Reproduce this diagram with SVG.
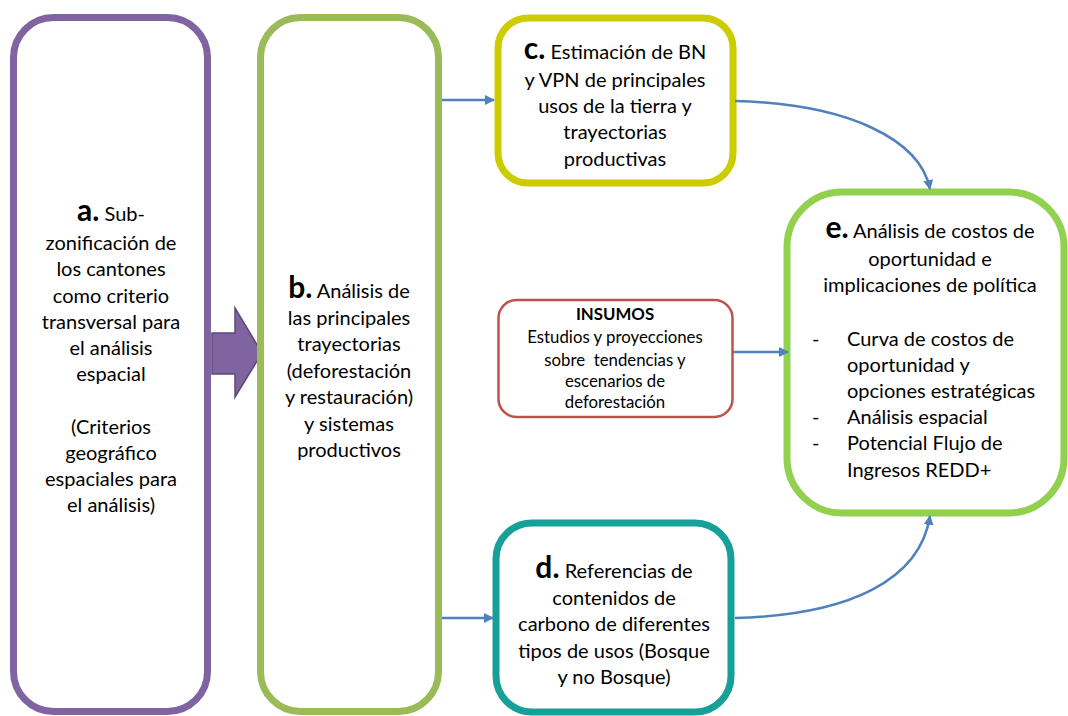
<svg xmlns="http://www.w3.org/2000/svg" width="1068" height="716" viewBox="0 0 1068 716">
<style>
.t{font-family:Lato,"Liberation Sans",sans-serif;font-size:20px;fill:#000;text-anchor:middle}
.s{font-family:Lato,"Liberation Sans",sans-serif;font-size:16.8px;fill:#000;text-anchor:middle}
.l{font-family:Lato,"Liberation Sans",sans-serif;font-size:20px;fill:#000}
.b{font-weight:bold;font-size:30px}
.box{fill:#fff;stroke-width:7}
.con{fill:none;stroke:#4F81BD;stroke-width:2.5}
</style>
<defs>
<marker id="ah" viewBox="0 0 10 10" refX="9" refY="5" markerWidth="4" markerHeight="4" orient="auto" markerUnits="strokeWidth">
<path d="M0,0 L10,5 L0,10 Z" fill="#4F81BD"/>
</marker>
</defs>
<rect width="1068" height="716" fill="#fff"/>
<g id="nodeA">
<rect class="box" x="13.5" y="17.5" width="194" height="694" rx="40" stroke="#8064A2"/>
<text class="t" x="111" y="221"><tspan class="b">a.</tspan> Sub-</text>
<text class="t" x="111" y="250">zonificación de</text>
<text class="t" x="111" y="276">los cantones</text>
<text class="t" x="111" y="303">como criterio</text>
<text class="t" x="111" y="329">transversal para</text>
<text class="t" x="111" y="355">el análisis</text>
<text class="t" x="111" y="381">espacial</text>
<text class="t" x="111" y="434">(Criterios</text>
<text class="t" x="111" y="460">geográfico</text>
<text class="t" x="111" y="486">espaciales para</text>
<text class="t" x="111" y="512">el análisis)</text>
</g>
<g id="blockArrow">
<path d="M212,333 H235 V308 L262,353 L235,397 V374 H212 Z" fill="#8064A2" stroke="#5C4776" stroke-width="1.5"/>
</g>
<g id="nodeB">
<rect class="box" x="260.5" y="17.5" width="178" height="694" rx="40" stroke="#9BBB59"/>
<text class="t" x="349" y="298"><tspan class="b">b.</tspan> Análisis de</text>
<text class="t" x="349" y="325">las principales</text>
<text class="t" x="349" y="351">trayectorias</text>
<text class="t" x="349" y="378">(deforestación</text>
<text class="t" x="349" y="404">y restauración)</text>
<text class="t" x="349" y="431">y sistemas</text>
<text class="t" x="349" y="457">productivos</text>
</g>
<g id="nodeC">
<rect class="box" x="498" y="18" width="235" height="165" rx="30" stroke="#CCCC00"/>
<text class="t" x="615" y="59"><tspan class="b">c.</tspan> Estimación de BN</text>
<text class="t" x="615" y="87">y VPN de principales</text>
<text class="t" x="615" y="113">usos de la tierra y</text>
<text class="t" x="615" y="139">trayectorias</text>
<text class="t" x="615" y="166">productivas</text>
</g>
<g id="nodeInsumos">
<rect x="498.5" y="300" width="234" height="117" rx="18" fill="#fff" stroke="#C0504D" stroke-width="2.5"/>
<text class="s" x="615" y="320" font-weight="bold">INSUMOS</text>
<text class="s" x="615" y="343">Estudios y proyecciones</text>
<text class="s" x="615" y="366">sobre&#160; tendencias y</text>
<text class="s" x="615" y="387">escenarios de</text>
<text class="s" x="615" y="408">deforestación</text>
</g>
<g id="nodeD">
<rect class="box" x="496" y="523" width="235" height="189" rx="36" stroke="#17A098"/>
<text class="t" x="614" y="578"><tspan class="b">d.</tspan> Referencias de</text>
<text class="t" x="614" y="605">contenidos de</text>
<text class="t" x="614" y="631">carbono de diferentes</text>
<text class="t" x="614" y="658">tipos de usos (Bosque</text>
<text class="t" x="614" y="684">y no Bosque)</text>
</g>
<g id="nodeE">
<rect class="box" x="787" y="192" width="277" height="321" rx="55" stroke="#92D050"/>
<text class="t" x="930" y="238"><tspan class="b">e.</tspan> Análisis de costos de</text>
<text class="t" x="930" y="266">oportunidad e</text>
<text class="t" x="930" y="292">implicaciones de política</text>
<text class="l" x="812" y="346">-</text>
<text class="l" x="847" y="346">Curva de costos de</text>
<text class="l" x="847" y="372">oportunidad y</text>
<text class="l" x="847" y="398">opciones estratégicas</text>
<text class="l" x="812" y="424">-</text>
<text class="l" x="847" y="424">Análisis espacial</text>
<text class="l" x="812" y="450">-</text>
<text class="l" x="847" y="450">Potencial Flujo de</text>
<text class="l" x="847" y="477">Ingresos REDD+</text>
</g>
<g id="connectors">
<path class="con" d="M442,100 H494" marker-end="url(#ah)"/>
<path class="con" d="M442,618 H493" marker-end="url(#ah)"/>
<path class="con" d="M733,352 H788" marker-end="url(#ah)"/>
<path class="con" d="M735,101 C850,104 920,140 930,189" marker-end="url(#ah)"/>
<path class="con" d="M735,618 C850,615 920,580 930,516" marker-end="url(#ah)"/>
</g>
</svg>
